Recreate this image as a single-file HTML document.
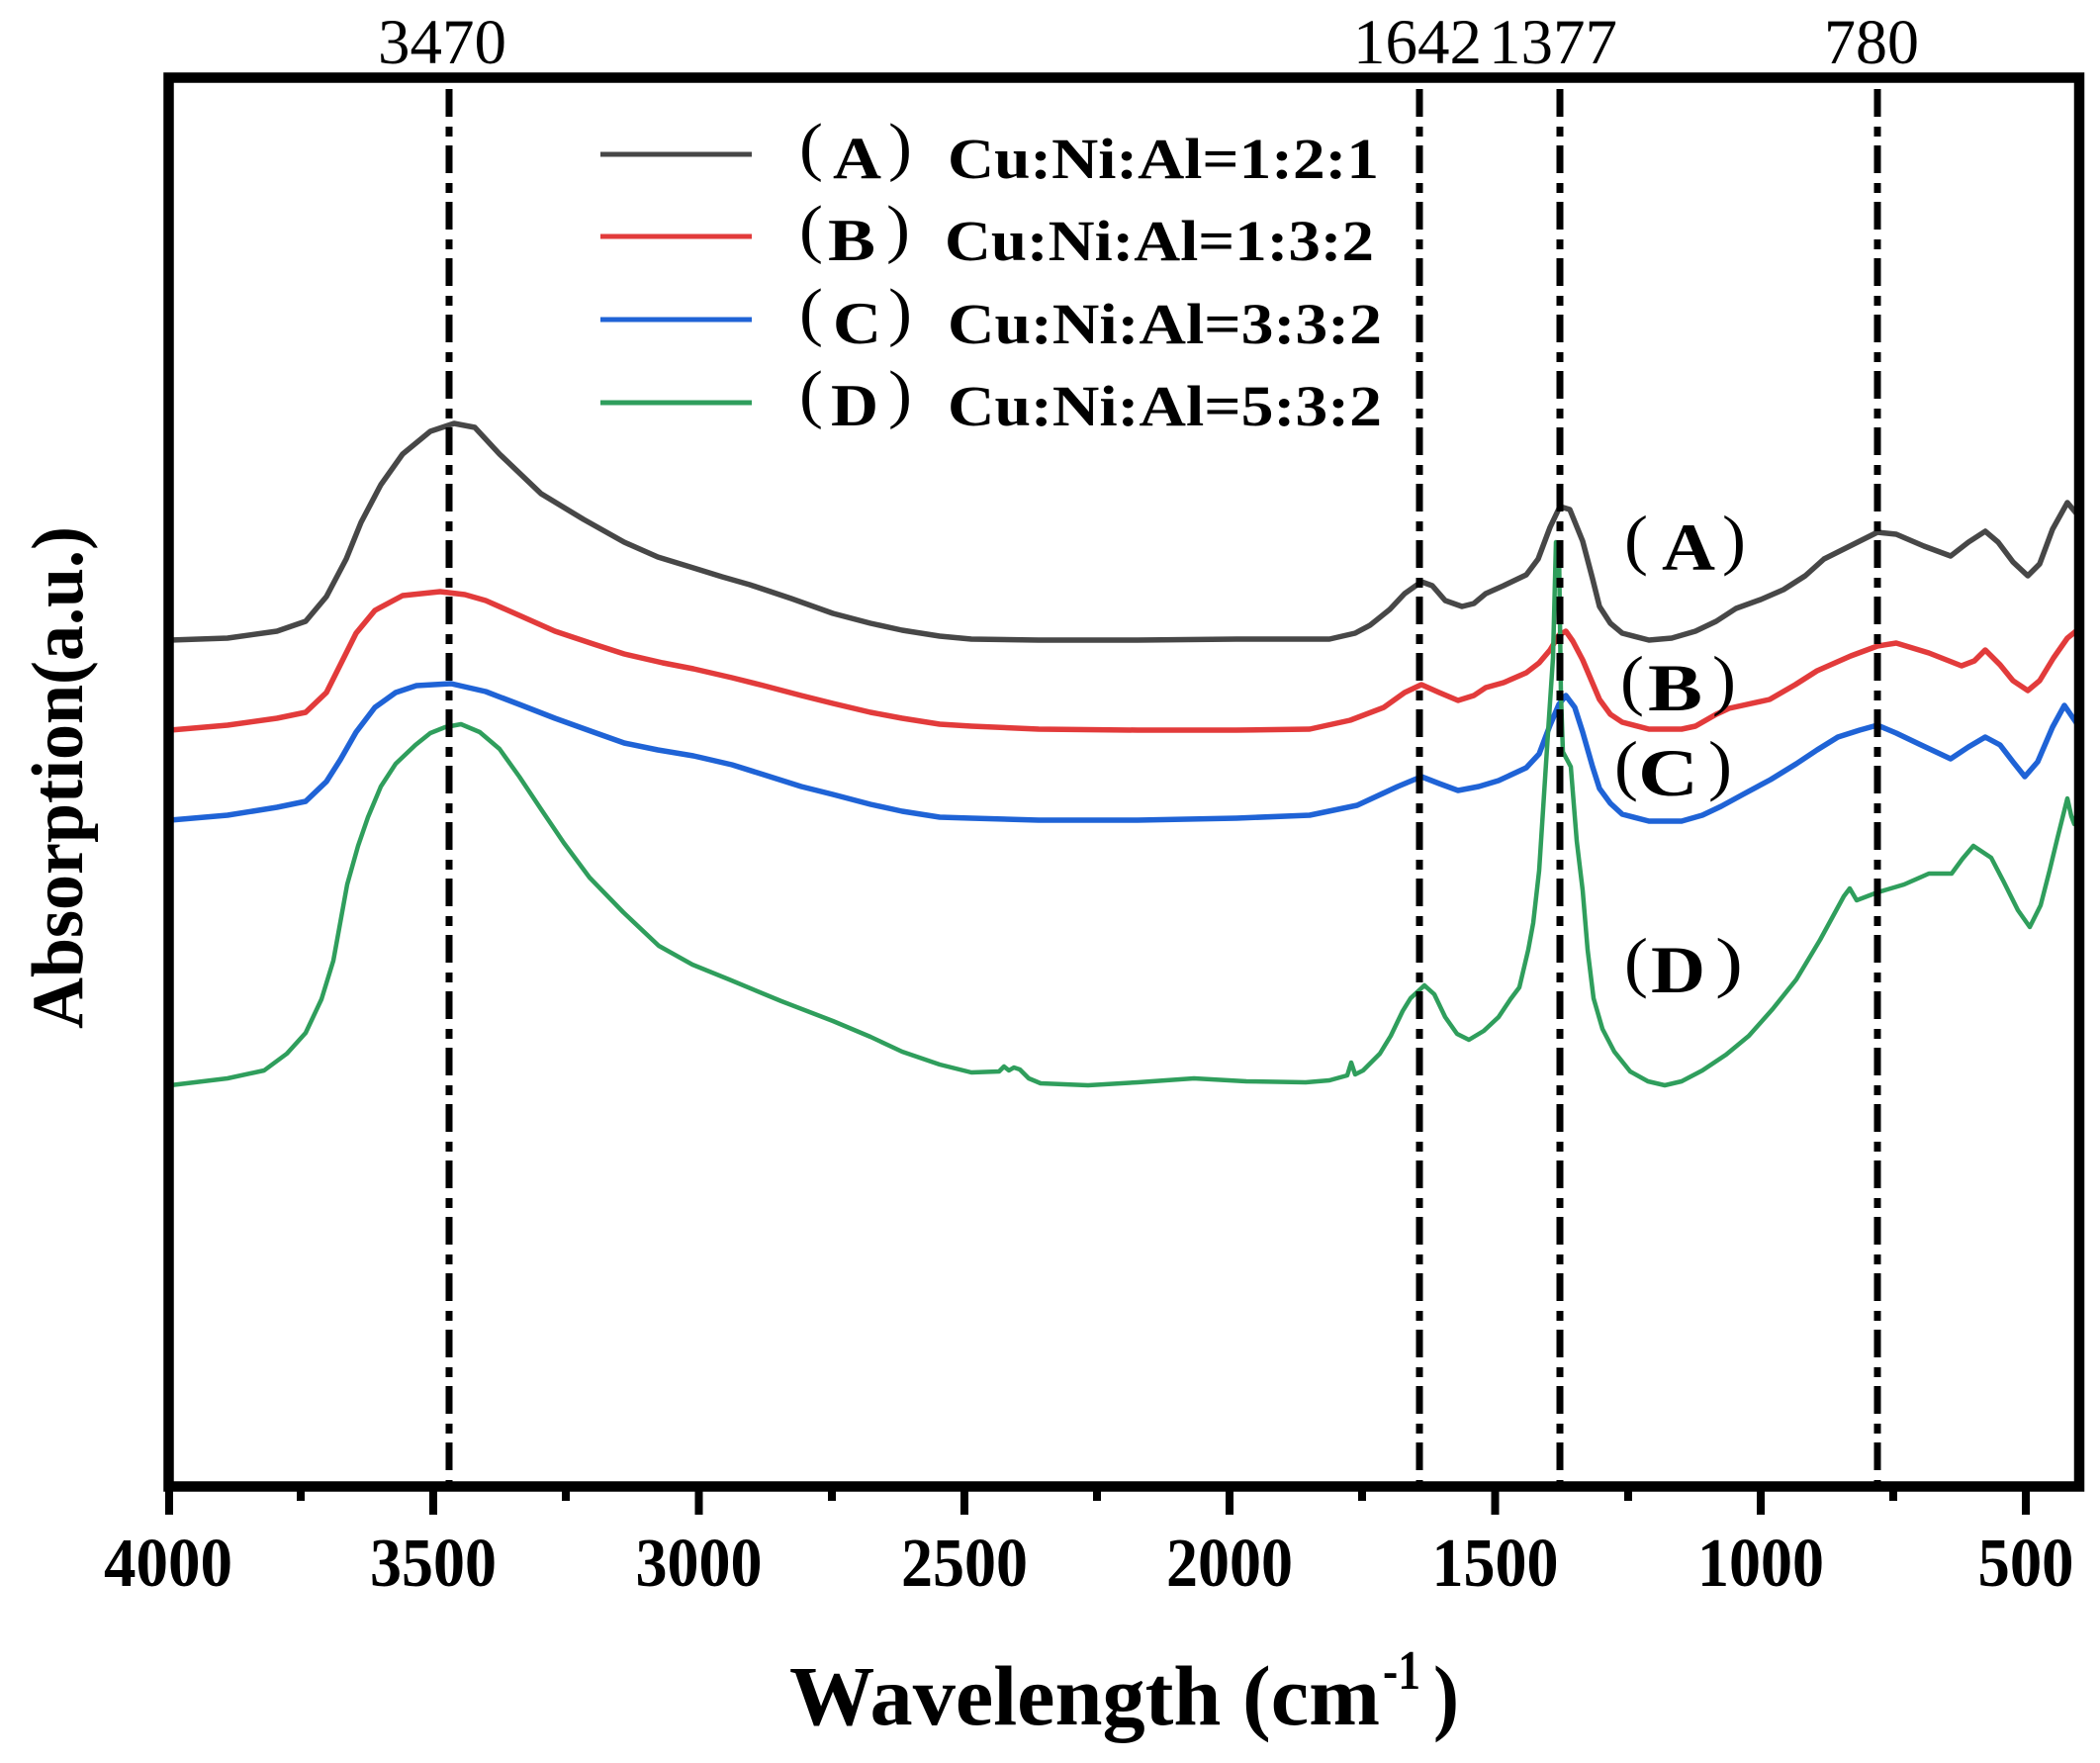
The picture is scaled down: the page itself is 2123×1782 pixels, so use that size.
<!DOCTYPE html>
<html>
<head>
<meta charset="utf-8">
<style>
  html,body{margin:0;padding:0;background:#fff;}
  svg{display:block;}
  text{font-family:"Liberation Serif","Noto Serif CJK SC",serif;fill:#000;}
</style>
</head>
<body>
<svg width="2123" height="1782" viewBox="0 0 2123 1782" xmlns="http://www.w3.org/2000/svg">
  <rect x="0" y="0" width="2123" height="1782" fill="#fff"/>

  <!-- curves -->
  <g fill="none" stroke-linejoin="round" stroke-linecap="round">
    <polyline stroke="#474747" stroke-width="5.5" points="172,647 230,645 280,638 309,628 330,603 350,565 365,528 385,490 407,459 435,436 459,428 480,432 505,459 547,499 590,525 631,548 665,563 701,574 730,583 758,591 800,605 842,620 880,630 912,637 950,643 982,646 1050,647 1150,647 1250,646 1344,646 1370,640 1385,632 1405,616 1420,600 1437,588 1448,592 1461,607 1478,613 1490,610 1502,600 1520,592 1543,581 1555,565 1567,533 1577,512 1587,515 1600,547 1610,585 1617,613 1628,630 1640,640 1667,647 1690,645 1714,638 1735,628 1755,615 1780,606 1803,596 1825,582 1844,565 1870,552 1898,538 1917,540 1945,552 1972,562 1990,548 2007,537 2020,548 2035,568 2050,582 2062,570 2075,535 2090,508 2100,520"/>
    <polyline stroke="#e23b3b" stroke-width="5.5" points="172,738 230,733 280,726 309,720 330,700 344,672 360,640 379,617 407,602 445,598 470,601 491,607 525,622 561,638 600,651 631,661 670,670 701,676 740,685 772,693 810,703 842,711 880,720 912,726 950,732 982,734 1050,737 1150,738 1250,738 1324,737 1365,728 1399,715 1420,700 1437,692 1455,700 1474,708 1490,703 1502,695 1520,690 1543,680 1556,670 1567,657 1576,642 1583,638 1590,648 1600,667 1617,707 1628,722 1640,730 1667,737 1700,737 1714,734 1735,722 1748,716 1789,707 1815,692 1837,678 1871,663 1898,653 1917,650 1950,660 1983,673 1996,668 2007,657 2022,672 2035,688 2050,698 2062,688 2076,665 2090,645 2100,637"/>
    <polyline stroke="#1f63d6" stroke-width="5.5" points="172,829 230,824 280,816 309,810 330,790 344,768 360,740 379,715 400,700 421,693 456,691 491,699 525,712 561,726 600,740 631,751 665,758 701,764 740,773 772,783 810,795 842,803 880,813 912,820 950,826 982,827 1050,829 1150,829 1250,827 1324,824 1372,814 1413,795 1437,785 1455,792 1474,799 1495,795 1515,789 1543,776 1556,762 1567,733 1576,712 1583,703 1592,715 1600,740 1610,775 1617,797 1628,812 1640,823 1667,830 1700,830 1721,824 1740,815 1762,803 1790,788 1816,772 1837,758 1858,745 1880,738 1898,733 1917,741 1940,752 1972,767 1990,755 2007,745 2022,753 2035,770 2047,785 2060,770 2075,735 2087,713 2100,732"/>
    <polyline stroke="#2f9e5c" stroke-width="4.5" points="172,1097 230,1090 267,1082 290,1065 309,1044 325,1010 337,971 351,894 362,855 372,826 385,795 400,772 420,753 435,741 450,735 466,732 485,740 505,757 525,785 547,818 570,852 596,887 630,922 666,956 700,975 737,990 790,1012 842,1032 880,1048 912,1063 950,1076 982,1084 1010,1083 1015,1078 1020,1082 1025,1079 1031,1081 1040,1090 1052,1095 1100,1097 1150,1094 1207,1090 1260,1093 1320,1094 1344,1092 1362,1087 1366,1074 1370,1086 1378,1082 1395,1065 1406,1047 1418,1022 1426,1009 1440,996 1450,1005 1461,1028 1473,1045 1485,1051 1500,1042 1515,1028 1527,1010 1536,998 1545,960 1550,933 1556,880 1560,818 1565,740 1570,665 1573,548 1576,550 1578,700 1580,760 1588,775 1594,850 1600,900 1605,960 1611,1009 1620,1040 1632,1063 1648,1083 1666,1093 1683,1097 1700,1093 1721,1082 1745,1066 1768,1047 1792,1020 1816,990 1840,950 1864,906 1870,898 1877,910 1898,902 1925,894 1950,883 1973,883 1984,868 1995,855 2013,867 2025,890 2040,920 2052,937 2063,915 2072,880 2080,847 2090,807 2094,825 2097,833 2100,820"/>
  </g>

  <!-- dash-dot reference lines -->
  <g stroke="#000" stroke-width="7" stroke-dasharray="28 10 10 9" fill="none">
    <line x1="454" y1="90" x2="454" y2="1498"/>
    <line x1="1435" y1="90" x2="1435" y2="1498"/>
    <line x1="1577" y1="90" x2="1577" y2="1498"/>
    <line x1="1898" y1="90" x2="1898" y2="1498"/>
  </g>

  <!-- frame -->
  <rect x="170.5" y="78.5" width="1931.5" height="1424" fill="none" stroke="#000" stroke-width="10.5"/>

  <!-- ticks -->
  <g stroke="#000" stroke-width="8">
    <line x1="171" y1="1502" x2="171" y2="1531"/>
    <line x1="438" y1="1502" x2="438" y2="1531"/>
    <line x1="706.5" y1="1502" x2="706.5" y2="1531"/>
    <line x1="975" y1="1502" x2="975" y2="1531"/>
    <line x1="1243" y1="1502" x2="1243" y2="1531"/>
    <line x1="1511.5" y1="1502" x2="1511.5" y2="1531"/>
    <line x1="1780" y1="1502" x2="1780" y2="1531"/>
    <line x1="2048" y1="1502" x2="2048" y2="1531"/>
    <line x1="304" y1="1502" x2="304" y2="1517"/>
    <line x1="572" y1="1502" x2="572" y2="1517"/>
    <line x1="841" y1="1502" x2="841" y2="1517"/>
    <line x1="1109" y1="1502" x2="1109" y2="1517"/>
    <line x1="1377" y1="1502" x2="1377" y2="1517"/>
    <line x1="1646" y1="1502" x2="1646" y2="1517"/>
    <line x1="1914" y1="1502" x2="1914" y2="1517"/>
  </g>

  <!-- tick labels -->
  <g font-size="70" font-weight="bold" text-anchor="middle">
    <text x="170" y="1603" textLength="130" lengthAdjust="spacingAndGlyphs">4000</text>
    <text x="438" y="1603" textLength="128" lengthAdjust="spacingAndGlyphs">3500</text>
    <text x="706.5" y="1603" textLength="128" lengthAdjust="spacingAndGlyphs">3000</text>
    <text x="975" y="1603" textLength="128" lengthAdjust="spacingAndGlyphs">2500</text>
    <text x="1243" y="1603" textLength="128" lengthAdjust="spacingAndGlyphs">2000</text>
    <text x="1511.5" y="1603" textLength="128" lengthAdjust="spacingAndGlyphs">1500</text>
    <text x="1780" y="1603" textLength="128" lengthAdjust="spacingAndGlyphs">1000</text>
    <text x="2048" y="1603" textLength="97" lengthAdjust="spacingAndGlyphs">500</text>
  </g>

  <!-- top peak labels -->
  <g font-size="65">
    <text x="382" y="64" textLength="130" lengthAdjust="spacingAndGlyphs">3470</text>
    <text x="1368" y="64" textLength="130" lengthAdjust="spacingAndGlyphs">1642</text>
    <text x="1505" y="64" textLength="130" lengthAdjust="spacingAndGlyphs">1377</text>
    <text x="1844" y="64" textLength="96" lengthAdjust="spacingAndGlyphs">780</text>
  </g>

  <!-- axis titles -->
  <text x="798" y="1743" font-size="86" font-weight="bold" textLength="597" lengthAdjust="spacingAndGlyphs">Wavelength (cm</text>
  <text x="1398" y="1707" font-size="56" font-weight="bold" textLength="38" lengthAdjust="spacingAndGlyphs">-1</text>
  <text x="1449" y="1743" font-size="86" font-weight="bold" textLength="26" lengthAdjust="spacingAndGlyphs">)</text>

  <text transform="translate(83,786) rotate(-90)" x="0" y="0" text-anchor="middle" font-size="74" font-weight="bold" textLength="508" lengthAdjust="spacingAndGlyphs">Absorption(a.u.)</text>

  <!-- legend -->
  <g stroke-width="5" stroke-linecap="butt">
    <line x1="607" y1="156" x2="760" y2="156" stroke="#474747"/>
    <line x1="607" y1="239" x2="760" y2="239" stroke="#e23b3b"/>
    <line x1="607" y1="323" x2="760" y2="323" stroke="#1f63d6"/>
    <line x1="607" y1="407" x2="760" y2="407" stroke="#2f9e5c"/>
  </g>
  <g>
    <text x="808" y="170" font-size="66" textLength="24" lengthAdjust="spacingAndGlyphs">(</text>
    <text x="842" y="180" font-size="60" font-weight="bold" textLength="49" lengthAdjust="spacingAndGlyphs">A</text>
    <text x="898" y="170" font-size="66" textLength="24" lengthAdjust="spacingAndGlyphs">)</text>
    <text x="958" y="180" font-size="58" font-weight="bold" textLength="436" lengthAdjust="spacingAndGlyphs">Cu:Ni:Al=1:2:1</text>

    <text x="808" y="253" font-size="66" textLength="24" lengthAdjust="spacingAndGlyphs">(</text>
    <text x="837" y="263" font-size="60" font-weight="bold" textLength="48" lengthAdjust="spacingAndGlyphs">B</text>
    <text x="896" y="253" font-size="66" textLength="24" lengthAdjust="spacingAndGlyphs">)</text>
    <text x="955" y="263" font-size="58" font-weight="bold" textLength="434" lengthAdjust="spacingAndGlyphs">Cu:Ni:Al=1:3:2</text>

    <text x="808" y="337" font-size="66" textLength="24" lengthAdjust="spacingAndGlyphs">(</text>
    <text x="842" y="347" font-size="60" font-weight="bold" textLength="49" lengthAdjust="spacingAndGlyphs">C</text>
    <text x="898" y="337" font-size="66" textLength="24" lengthAdjust="spacingAndGlyphs">)</text>
    <text x="958" y="347" font-size="58" font-weight="bold" textLength="439" lengthAdjust="spacingAndGlyphs">Cu:Ni:Al=3:3:2</text>

    <text x="808" y="420" font-size="66" textLength="24" lengthAdjust="spacingAndGlyphs">(</text>
    <text x="840" y="430" font-size="60" font-weight="bold" textLength="48" lengthAdjust="spacingAndGlyphs">D</text>
    <text x="898" y="420" font-size="66" textLength="24" lengthAdjust="spacingAndGlyphs">)</text>
    <text x="958" y="430" font-size="58" font-weight="bold" textLength="439" lengthAdjust="spacingAndGlyphs">Cu:Ni:Al=5:3:2</text>
  </g>

  <!-- curve labels -->
  <g>
    <text x="1642" y="568" font-size="68" textLength="24" lengthAdjust="spacingAndGlyphs">(</text>
    <text x="1680" y="576" font-size="68" font-weight="bold" textLength="54" lengthAdjust="spacingAndGlyphs">A</text>
    <text x="1741" y="568" font-size="68" textLength="24" lengthAdjust="spacingAndGlyphs">)</text>

    <text x="1638" y="710" font-size="68" textLength="24" lengthAdjust="spacingAndGlyphs">(</text>
    <text x="1666" y="718" font-size="68" font-weight="bold" textLength="55" lengthAdjust="spacingAndGlyphs">B</text>
    <text x="1731" y="710" font-size="68" textLength="24" lengthAdjust="spacingAndGlyphs">)</text>

    <text x="1632" y="796" font-size="68" textLength="24" lengthAdjust="spacingAndGlyphs">(</text>
    <text x="1656" y="804" font-size="68" font-weight="bold" textLength="61" lengthAdjust="spacingAndGlyphs">C</text>
    <text x="1727" y="796" font-size="68" textLength="24" lengthAdjust="spacingAndGlyphs">)</text>

    <text x="1642" y="995" font-size="68" textLength="24" lengthAdjust="spacingAndGlyphs">(</text>
    <text x="1669" y="1003" font-size="68" font-weight="bold" textLength="55" lengthAdjust="spacingAndGlyphs">D</text>
    <text x="1734" y="995" font-size="68" textLength="28" lengthAdjust="spacingAndGlyphs">)</text>
  </g>
</svg>
</body>
</html>
